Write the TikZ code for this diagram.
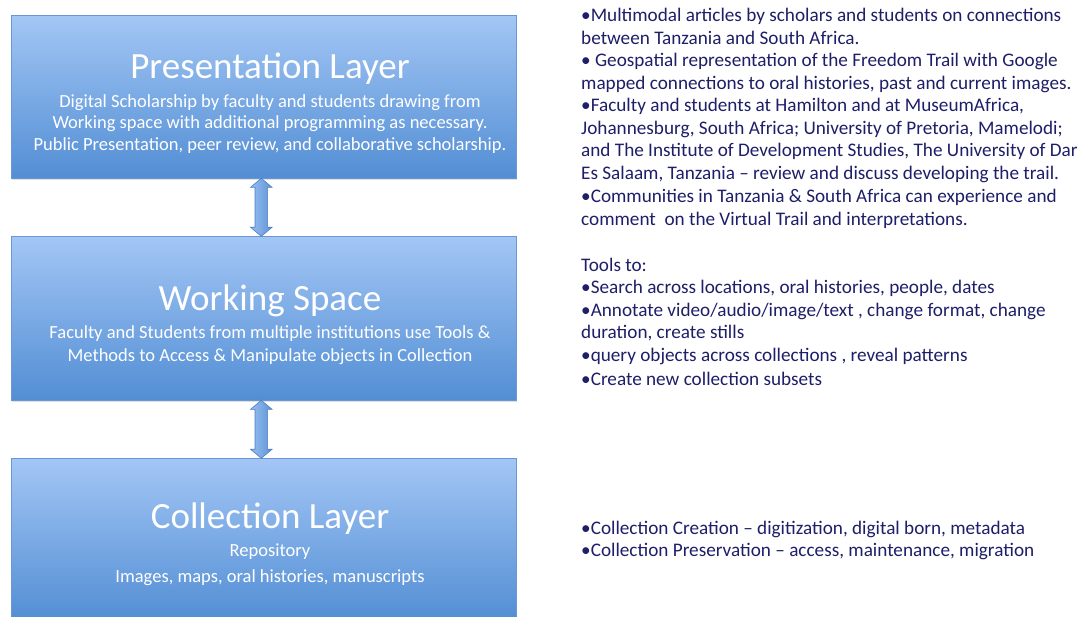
\documentclass[tikz,border=0pt]{standalone}
\usepackage{fontspec}
\setmainfont{Carlito}
\usetikzlibrary{shapes.arrows,shadows,calc}
\definecolor{boxtop}{RGB}{163,198,245}
\definecolor{boxbot}{RGB}{82,142,212}
\definecolor{boxedge}{RGB}{105,150,212}
\definecolor{navy}{RGB}{30,30,105}
\definecolor{arrowtop}{RGB}{150,190,240}
\definecolor{arrowbot}{RGB}{95,148,215}
\definecolor{arrowedge}{RGB}{75,125,195}
\begin{document}
\begin{tikzpicture}[x=1pt,y=-1pt,
  layerbox/.style={draw=boxedge, line width=0.6pt, top color=boxtop, bottom color=boxbot,
    minimum width=505pt, inner sep=0pt, anchor=north west,
    drop shadow={opacity=0.25, shadow xshift=1pt, shadow yshift=-2pt}},
  titletext/.style={text=white, anchor=base, inner sep=0pt, font=\fontsize{37}{42}\selectfont},
  subtext/.style={text=white, anchor=base, inner sep=0pt, font=\fontsize{18.5}{22}\selectfont},
  righttext/.style={text=navy, anchor=base west, inner sep=0pt, font=\fontsize{19.2}{22}\selectfont},
  dblarrow/.style={shape=double arrow, rotate=90, draw=arrowedge, line width=0.6pt,
    left color=arrowtop, right color=arrowbot, inner xsep=0pt, inner ysep=6pt,
    double arrow head extend=4.5pt, double arrow tip angle=100}
]
\useasboundingbox (0,0) rectangle (1079,616);
\fill[white] (0,0) rectangle (1079,616);

% layer boxes
\node[layerbox, minimum height=163pt] (p) at (11,15) {};
\node[layerbox, minimum height=164pt] (w) at (11,236) {};
\node[layerbox, minimum height=163pt] (c) at (11,458) {};

% connectors
\node[dblarrow, minimum height=58pt] (a1) at ($(p.south)!0.5!(w.north)+(-2.5,0)$) {};
\node[dblarrow, minimum height=58pt] (a2) at ($(w.south)!0.5!(c.north)+(-2.5,0)$) {};

% box texts
\node[titletext] (pt) at (270,78) {Presentation Layer};
\node[subtext] (ps1) at (270,107) {Digital Scholarship by faculty and students drawing from};
\node[subtext] (ps2) at (270,128) {Working space with additional programming as necessary.};
\node[subtext] (ps3) at (270,150) {Public Presentation, peer review, and collaborative scholarship.};

\node[titletext] (wt) at (270,310) {Working Space};
\node[subtext] (ws1) at (270,338) {Faculty and Students from multiple institutions use Tools \&};
\node[subtext] (ws2) at (270,361) {Methods to Access \& Manipulate objects in Collection};

\node[titletext] (ct) at (270,528) {Collection Layer};
\node[subtext] (cs1) at (270,556) {Repository};
\node[subtext] (cs2) at (270,582) {Images, maps, oral histories, manuscripts};

% right texts
\foreach \yy/\txt [count=\k] in {
  21/{•Multimodal articles by scholars and students on connections},
  44/{between Tanzania and South Africa.},
  66/{• Geospatial representation of the Freedom Trail with Google},
  89/{mapped connections to oral histories, past and current images.},
  111/{•Faculty and students at Hamilton and at MuseumAfrica,},
  134/{Johannesburg, South Africa; University of Pretoria, Mamelodi;},
  156/{and The Institute of Development Studies, The University of Dar},
  179/{Es Salaam, Tanzania – review and discuss developing the trail.},
  202/{•Communities in Tanzania \& South Africa can experience and},
  225/{comment\ \ on the Virtual Trail and interpretations.},
  271/{Tools to:},
  293/{•Search across locations, oral histories, people, dates},
  316/{•Annotate video/audio/image/text , change format, change},
  338/{duration, create stills},
  361/{•query objects across collections , reveal patterns},
  385/{•Create new collection subsets},
  534/{•Collection Creation – digitization, digital born, metadata},
  556/{•Collection Preservation – access, maintenance, migration}}
  \node[righttext] (r\k) at (581,\yy) {\txt};
\end{tikzpicture}
\end{document}
